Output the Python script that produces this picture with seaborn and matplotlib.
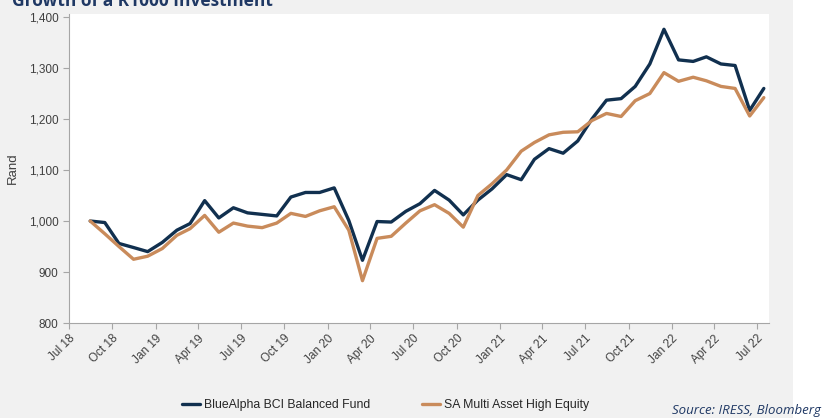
import pandas as pd
import seaborn as sns
import matplotlib.pyplot as plt
import matplotlib.dates as mdates
from matplotlib.patches import Rectangle
from matplotlib.ticker import FuncFormatter

# monthly values, Aug 2018 .. Jul 2022 (plotted mid-month)
months = pd.date_range("2018-08-01", "2022-07-01", freq="MS") + pd.Timedelta(days=14)
bluealpha = [1000, 997, 956, 948, 940, 958, 982, 995, 1040, 1006,
             1026, 1016, 1013, 1010, 1047, 1056, 1056, 1065, 1001, 923,
             999, 998, 1019, 1034, 1060, 1041, 1012, 1041, 1063, 1091,
             1081, 1121, 1142, 1133, 1157, 1200, 1237, 1240, 1264, 1308,
             1376, 1316, 1313, 1322, 1308, 1305, 1217, 1260]
sa_multi = [1000, 975, 950, 925, 931, 946, 972, 985, 1011, 978,
            996, 990, 987, 996, 1015, 1009, 1020, 1028, 982, 883,
            966, 970, 996, 1020, 1032, 1015, 988, 1050, 1073, 1100,
            1137, 1154, 1169, 1174, 1175, 1197, 1211, 1205, 1236, 1250,
            1291, 1274, 1282, 1275, 1264, 1260, 1206, 1242]
series_names = ["BlueAlpha BCI Balanced Fund", "SA Multi Asset High Equity"]
line_colors = ["#11304f", "#c98b5b"]
tick_dates = pd.date_range("2018-07-01", "2022-07-01", freq="QS-JAN")

sns.set_theme(style="ticks")
plt.rcParams['font.family'] = ['Liberation Sans', 'DejaVu Sans']

W, H = 834, 418
fig = plt.figure(figsize=(W / 100, H / 100), dpi=100)
fig.patch.set_facecolor("white")
fig.patches.append(Rectangle((0, 0), 793 / W, 1, transform=fig.transFigure,
                             facecolor="#f1f1f1", edgecolor="none", zorder=-10))

ax = fig.add_axes([69 / W, 1 - 323 / H, 700 / W, 309 / H])
ax.set_facecolor("white")

for name, vals, col in zip(series_names, [bluealpha, sa_multi], line_colors):
    sns.lineplot(x=months, y=vals, ax=ax, color=col, linewidth=2.4, label=name)

ax.set_ylim(800, 1406)
ax.set_yticks(range(800, 1401, 100))
ax.yaxis.set_major_formatter(FuncFormatter(lambda v, p: f"{v:,.0f}"))
ax.set_xlim(pd.Timestamp("2018-07-01"), pd.Timestamp("2022-07-26"))
ax.set_xticks(tick_dates)
ax.xaxis.set_major_formatter(mdates.DateFormatter("%b %y"))
plt.setp(ax.get_xticklabels(), rotation=45, ha="right", rotation_mode="anchor")

ax.set_ylabel("Rand", fontsize=9.5, color="#404040", labelpad=7)
ax.set_xlabel("")
ax.tick_params(axis="both", labelsize=8.5, labelcolor="#404040",
               color="#a6a6a6", length=4, width=0.8)
ax.tick_params(axis="x", pad=3)
for s in ["top", "right"]:
    ax.spines[s].set_visible(False)
for s in ["left", "bottom"]:
    ax.spines[s].set_color("#a6a6a6")
    ax.spines[s].set_linewidth(0.8)

handles, labels = ax.get_legend_handles_labels()
ax.get_legend().remove()
fig.legend(handles, labels, loc="center", bbox_to_anchor=(0.462, 1 - 405 / H),
           ncol=2, frameon=False, fontsize=8.8, handlelength=1.5,
           handletextpad=0.3, columnspacing=4.2, labelcolor="#262626")

fig.text(12 / W, 1 - 6 / H, "Growth of a R1000 Investment", fontsize=12.5,
         fontweight="bold", color="#1f3864", family=["Open Sans", "DejaVu Sans"],
         va="baseline", ha="left")
fig.text(672 / W, 1 - 414 / H, "Source: IRESS, Bloomberg", fontsize=9.5,
         style="italic", color="#1f3864", family=["Open Sans", "DejaVu Sans"],
         va="baseline", ha="left")

fig.savefig("out.png", dpi=100, facecolor=fig.get_facecolor())
